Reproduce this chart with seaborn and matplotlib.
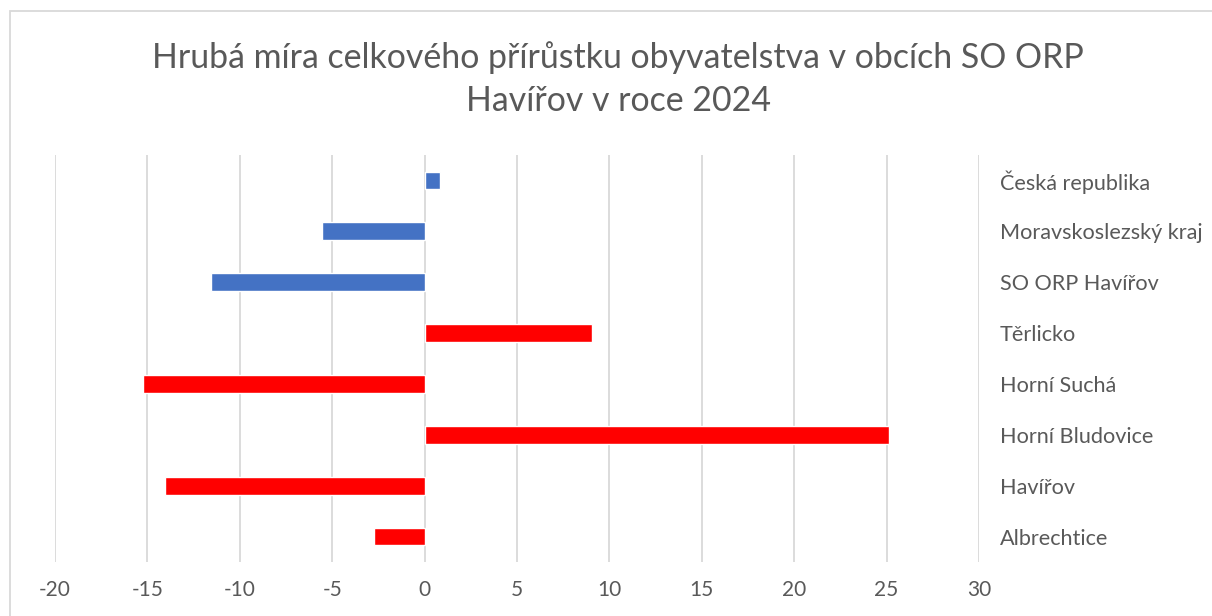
import matplotlib
matplotlib.use("Agg")
import matplotlib.pyplot as plt
import seaborn as sns
import pandas as pd
from matplotlib.patches import Rectangle

categories = ["Česká republika", "Moravskoslezský kraj", "SO ORP Havířov", "Těrlicko",
              "Horní Suchá", "Horní Bludovice", "Havířov", "Albrechtice"]
values = [0.85, -5.55, -11.55, 9.05, -15.25, 25.15, -14.07, -2.75]
bar_colors = ["#4472C4", "#4472C4", "#4472C4", "#FF0000", "#FF0000", "#FF0000", "#FF0000", "#FF0000"]
x_ticks = [-20, -15, -10, -5, 0, 5, 10, 15, 20, 25, 30]
title = "Hrubá míra celkového přírůstku obyvatelstva v obcích SO ORP\nHavířov v roce 2024"

sns.set_theme(style="white")
plt.rcParams['font.family'] = ['Lato', 'DejaVu Sans']

df = pd.DataFrame({"kategorie": categories, "hodnota": values})

fig = plt.figure(figsize=(12.12, 6.16), dpi=100)
ax = fig.add_axes([55/1212, 1-562/616, (979-55)/1212, (562-155)/616])

sns.barplot(data=df, x="hodnota", y="kategorie", hue="kategorie", palette=bar_colors,
            order=categories, hue_order=categories, width=0.35, legend=False,
            saturation=1, ax=ax, zorder=3)

ax.set_xlim(-20, 30)
ax.set_ylim(7.5, -0.5)
ax.set_xticks(x_ticks)
ax.set_xticklabels([str(t) for t in x_ticks])
ax.xaxis.grid(True, color="#D9D9D9", linewidth=1.3, zorder=0)
ax.yaxis.grid(False)
ax.set_axisbelow(True)
for s in ax.spines.values():
    s.set_visible(False)
ax.set_xlabel("")
ax.set_ylabel("")
ax.yaxis.tick_right()
ax.tick_params(axis="y", length=0, pad=15, labelsize=15.6, labelcolor="#595959")
ax.tick_params(axis="x", length=0, pad=13, labelsize=15, labelcolor="#595959")
for lbl in ax.get_yticklabels():
    lbl.set_horizontalalignment("left")
    lbl.set_verticalalignment("center_baseline")

fig.text(618/1212, 1-79/616, title, ha="center", va="center", fontsize=24.4,
         color="#595959", linespacing=1.42)

fig.patches.append(Rectangle((9.6/1212, -0.2), 1.5, 1.2 - 10.7/616,
                             transform=fig.transFigure, fill=False,
                             edgecolor="#D9D9D9", linewidth=1.3))

fig.savefig("out.png", dpi=100, facecolor="white")
